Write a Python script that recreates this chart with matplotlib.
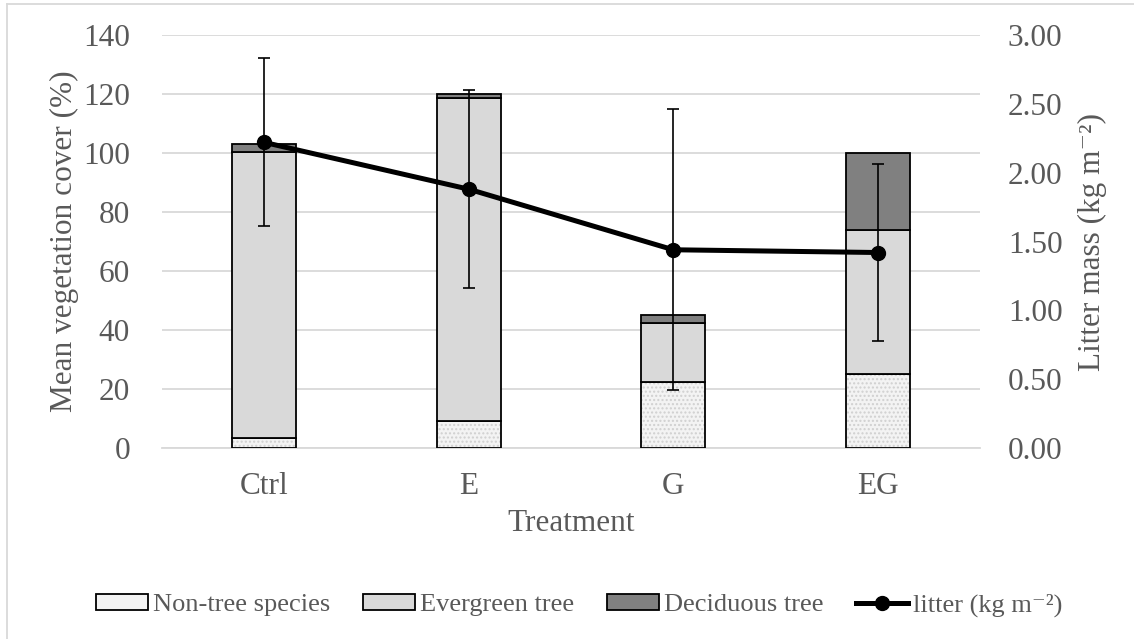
import matplotlib.pyplot as plt
import matplotlib.patches as mpatches
from matplotlib.lines import Line2D
import numpy as np

plt.rcParams['font.family'] = ['Liberation Serif', 'DejaVu Serif']

# data
treatments = ['Ctrl', 'E', 'G', 'EG']
non_tree = [3.5, 9.3, 22.5, 25.1]
evergreen = [96.7, 109.2, 19.8, 48.8]
deciduous = [2.8, 1.5, 2.8, 26.1]
litter = [2.22, 1.88, 1.44, 1.42]
litter_err = [0.61, 0.72, 1.02, 0.645]

x = np.arange(len(treatments))
w = 0.315
grey_txt = '#595959'
fs = 22.5

fig = plt.figure(figsize=(11.34, 6.39), dpi=100)
ax = fig.add_axes([0.1429, 0.2989, 0.7213, 0.6463])
ax2 = ax.twinx()

b1 = np.array(non_tree)
b2 = b1 + np.array(evergreen)

# non-tree: speckled light fill
ax.bar(x, non_tree, w, color='#f3f3f3', edgecolor='#d0d0d0', hatch='....', linewidth=0, zorder=2)
ax.bar(x, non_tree, w, fill=False, edgecolor='black', linewidth=1.3, zorder=3)
ax.bar(x, evergreen, w, bottom=b1, color='#d9d9d9', edgecolor='black', linewidth=1.3, zorder=3)
ax.bar(x, deciduous, w, bottom=b2, color='#808080', edgecolor='black', linewidth=1.3, zorder=3)

ax.set_ylim(0, 140)
ax.set_yticks(range(0, 141, 20))
ax.set_xlim(-0.5, 3.5)
ax.set_xticks(x)
ax.set_xticklabels(treatments)
ax.yaxis.grid(True, color='#d9d9d9', linewidth=1.3, zorder=0)
ax.set_axisbelow(True)
for s in ['top', 'left', 'right']:
    ax.spines[s].set_visible(False)
ax.spines['bottom'].set_color('#d9d9d9')
ax.spines['bottom'].set_linewidth(1.3)
ax.tick_params(axis='both', length=0, labelsize=fs, colors=grey_txt)
ax.tick_params(axis='x', pad=17)
ax.tick_params(axis='y', pad=23)
ax.set_ylabel('Mean vegetation cover (%)', fontsize=fs, color=grey_txt)
ax.yaxis.set_label_coords(-0.1015, 0.5)
ax.set_xlabel('Treatment', fontsize=fs, color=grey_txt, labelpad=6)

ax2.errorbar(x, litter, yerr=litter_err, color='black', linewidth=3.6, marker='o',
             markersize=10, ecolor='black', elinewidth=1.2, capsize=4, capthick=1.2, zorder=5)
ax2.set_ylim(0, 3.0)
ax2.set_yticks(np.arange(0, 3.01, 0.5))
ax2.set_yticklabels(['%.2f' % v for v in np.arange(0, 3.01, 0.5)])
for s in ['top', 'left', 'right', 'bottom']:
    ax2.spines[s].set_visible(False)
ax2.tick_params(axis='y', length=0, labelsize=fs, colors=grey_txt, pad=20)
ax2.set_ylabel('Litter mass (kg m⁻²)', fontsize=fs, color=grey_txt)
ax2.yaxis.set_label_coords(1.12, 0.5)

# legend
h1 = mpatches.Patch(facecolor='#f3f3f3', edgecolor='black', linewidth=1.3)
h2 = mpatches.Patch(facecolor='#d9d9d9', edgecolor='black', linewidth=1.3)
h3 = mpatches.Patch(facecolor='#808080', edgecolor='black', linewidth=1.3)
h4 = Line2D([], [], color='black', linewidth=3.6, marker='o', markersize=10)
leg = fig.legend([h1, h2, h3, h4],
                 ['Non-tree species', 'Evergreen tree', 'Deciduous tree', 'litter (kg m⁻²)'],
                 loc='center', bbox_to_anchor=(0.511, 0.053), ncol=4, frameon=False,
                 fontsize=19, handlelength=1.95, handleheight=0.55, handletextpad=0.2,
                 columnspacing=1.25)
for t in leg.get_texts():
    t.set_color(grey_txt)

# outer frame (left and top edges visible)
fig.add_artist(Line2D([7 / 1134, 7 / 1134], [0, 1 - 4 / 639], transform=fig.transFigure,
                      color='#d9d9d9', linewidth=1.3))
fig.add_artist(Line2D([7 / 1134, 1], [1 - 4 / 639, 1 - 4 / 639], transform=fig.transFigure,
                      color='#d9d9d9', linewidth=1.3))

fig.savefig('out.png', dpi=100)
